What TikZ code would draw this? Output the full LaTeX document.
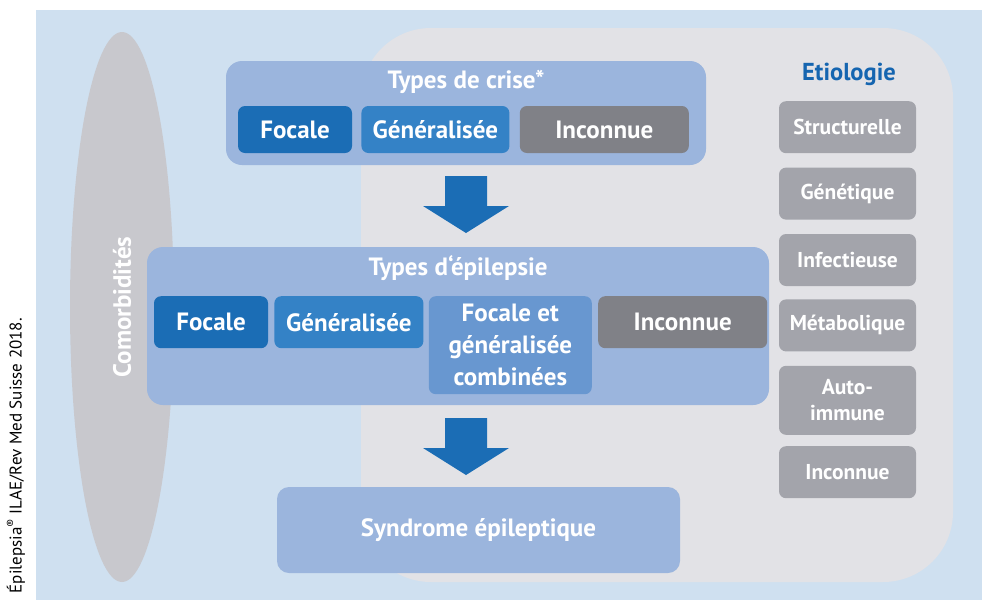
\documentclass[tikz,border=0pt]{standalone}
\usepackage{fontspec}
\setmainfont{PT Sans}
\usepackage{xcolor}
\definecolor{bgblue}{HTML}{CFE0F0}
\definecolor{etiobg}{HTML}{E2E2E6}
\definecolor{comorbgrey}{HTML}{C8C8CD}
\definecolor{panelblue}{HTML}{9BB5DD}
\definecolor{focalblue}{HTML}{1B6DB5}
\definecolor{generblue}{HTML}{3482C6}
\definecolor{combiblue}{HTML}{6897D0}
\definecolor{unknowngrey}{HTML}{808187}
\definecolor{etiogrey}{HTML}{A3A4AB}
\definecolor{etiotitle}{HTML}{1565B0}
\usetikzlibrary{positioning,shapes.geometric}

\newcommand{\bigdownarrow}[1]{%
  \fill[focalblue] (#1) ++(-21,0) -- ++(0,30) -- ++(-22,0) -- ++(43,27)
    -- ++(43,-27) -- ++(-22,0) -- ++(0,-30) -- cycle;}

\begin{document}
\begin{tikzpicture}[x=1pt,y=-1pt,
      panel/.style={rectangle,rounded corners=16pt,fill=panelblue,inner sep=0pt},
      tile/.style={rectangle,rounded corners=7pt,inner sep=0pt,align=center,
                   text=white,font=\bfseries\fontsize{25}{32}\selectfont},
      etio/.style={tile,fill=etiogrey,minimum width=137pt,minimum height=52pt,
                   font=\bfseries\fontsize{21.5}{26}\selectfont},
      heading/.style={text=white,font=\bfseries\fontsize{25}{28}\selectfont}]
    \useasboundingbox (0,0) rectangle (982,600);
    \clip (0,0) rectangle (982,600);
    \fill[bgblue] (36,10) rectangle (982,600);
    % comorbidites
    \node[ellipse,rotate=90,fill=comorbgrey,minimum width=550pt,minimum height=104pt,
          text=white,font=\bfseries\fontsize{25}{28}\selectfont] (comorb) at (122,307) {Comorbidités};
    % etiologie
    \fill[etiobg,rounded corners=70pt] (361,28) rectangle (953,582);
    \node[text=etiotitle,font=\bfseries\fontsize{24.5}{28}\selectfont] (etiotitle) at (849,74) {Etiologie};
    \node[etio,anchor=north] (struct) at (847.5,101) {Structurelle};
    \node[etio,below=14pt of struct] (genet) {Génétique};
    \node[etio,below=14pt of genet] (infect) {Infectieuse};
    \node[etio,below=13pt of infect] (metab) {Métabolique};
    \node[etio,minimum height=69pt,below=14pt of metab] (auto) {Auto-\\immune};
    \node[etio,below=11pt of auto] (etiounk) {Inconnue};
    % types de crise
    \node[panel,minimum width=480pt,minimum height=104pt] (crise) at (466,113) {};
    \node[heading] at (466,82) {Types de crise*};
    \node[tile,fill=focalblue,minimum width=114pt,minimum height=47pt] (crisefoc) at (295,129.5) {Focale};
    \node[tile,fill=generblue,minimum width=148pt,minimum height=47pt,right=9pt of crisefoc] (crisegen) {Généralisée};
    \node[tile,fill=unknowngrey,minimum width=169pt,minimum height=47pt,right=10pt of crisegen] (criseunk) {Inconnue};
    \bigdownarrow{466,176}
    % types d'epilepsie
    \node[panel,minimum width=622pt,minimum height=158pt] (epil) at (458,326) {};
    \node[heading] at (458,268) {Types d‘épilepsie};
    \node[tile,fill=focalblue,minimum width=114pt,minimum height=52pt,anchor=north] (epilfoc) at (211,296) {Focale};
    \node[tile,fill=generblue,minimum width=149pt,minimum height=52pt,right=6pt of epilfoc] (epilgen) {Généralisée};
    \node[tile,fill=combiblue,minimum width=163pt,minimum height=98pt,
          right=5pt of epilgen.north east,anchor=north west] (epilcomb) {Focale et\\généralisée\\combinées};
    \node[tile,fill=unknowngrey,minimum width=169pt,minimum height=52pt,
          right=6pt of epilcomb.north east,anchor=north west] (epilunk) {Inconnue};
    \bigdownarrow{466,418}
    % syndrome
    \node[panel,rounded corners=12pt,minimum width=403pt,minimum height=86pt,text=white,
          font=\bfseries\fontsize{25}{28}\selectfont] (syndr) at (478.5,530) {Syndrome épileptique};
    % source
    \node[rotate=90,anchor=east,inner sep=0pt,font=\fontsize{17}{19}\selectfont] (source) at (16,318) {Épilepsia\textsuperscript{®} ILAE/Rev Med Suisse 2018.};
  \end{tikzpicture}
\end{document}
